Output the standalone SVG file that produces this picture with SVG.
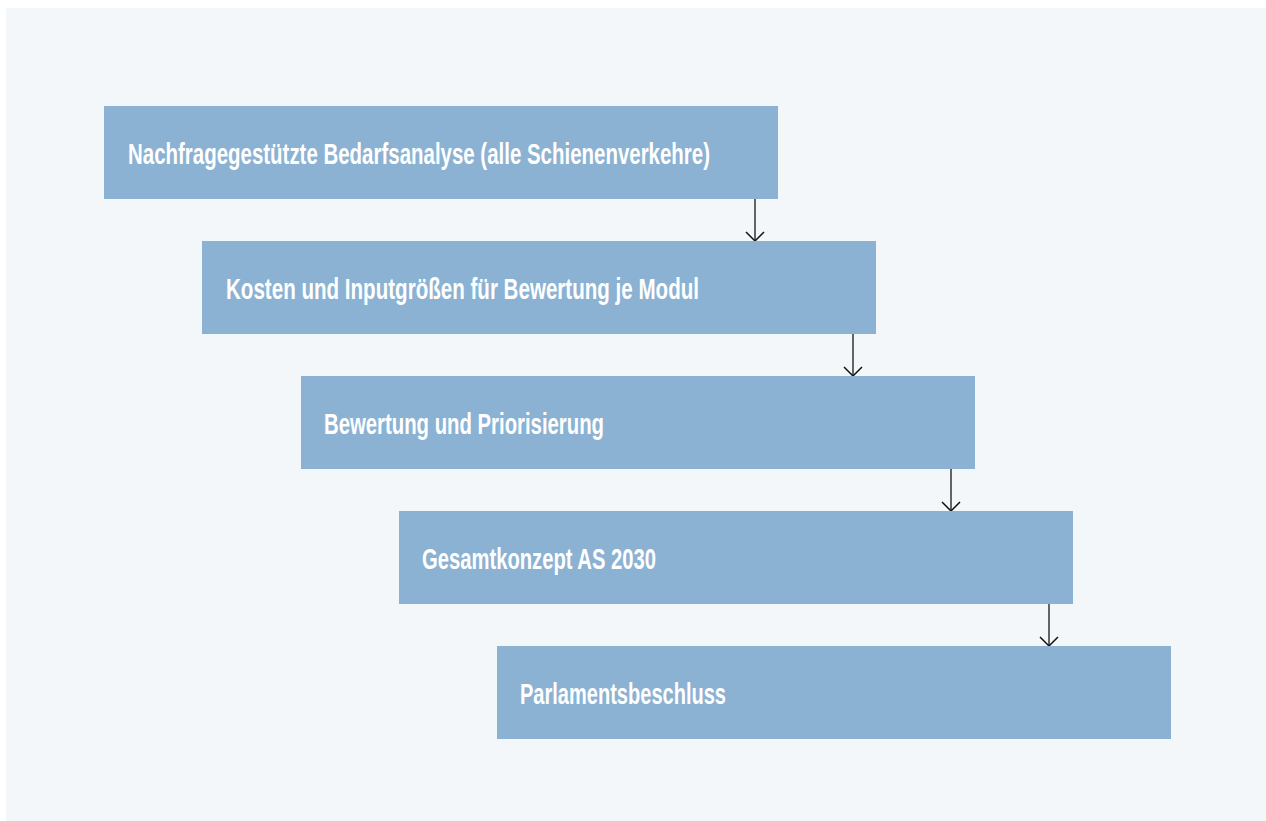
<svg xmlns="http://www.w3.org/2000/svg" width="1266" height="821" viewBox="0 0 1266 821">
<defs>
<style>
.box{fill:#8BB2D3}
.lbl{fill:#ffffff;font-family:"Liberation Sans",Arial,sans-serif;font-size:29px;font-weight:bold}
.conn{stroke:#333333;stroke-width:1.5;fill:none}
.head{fill:none;stroke:#111111;stroke-width:1.5}
</style>
</defs>
<rect x="0" y="0" width="1266" height="821" fill="#ffffff"/>
<rect x="6" y="8" width="1260" height="813" fill="#F3F7FA"/>
<g id="connectors">
<line class="conn" x1="755" y1="199" x2="755" y2="240"/>
<line class="conn" x1="853" y1="334" x2="853" y2="375"/>
<line class="conn" x1="951" y1="469" x2="951" y2="510"/>
<line class="conn" x1="1049" y1="604" x2="1049" y2="645"/>
<path class="head" d="M746,232 L755,241 L764,232 M844,367 L853,376 L862,367 M942,502 L951,511 L960,502 M1040,637 L1049,646 L1058,637"/>
</g>
<g id="n1"><rect class="box" x="104" y="106" width="674" height="93"/><text class="lbl" x="128" y="164" textLength="582" lengthAdjust="spacingAndGlyphs">Nachfragegestützte Bedarfsanalyse (alle Schienenverkehre)</text></g>
<g id="n2"><rect class="box" x="202" y="241" width="674" height="93"/><text class="lbl" x="226" y="299" textLength="473" lengthAdjust="spacingAndGlyphs">Kosten und Inputgrößen für Bewertung je Modul</text></g>
<g id="n3"><rect class="box" x="301" y="376" width="674" height="93"/><text class="lbl" x="324" y="434" textLength="280" lengthAdjust="spacingAndGlyphs">Bewertung und Priorisierung</text></g>
<g id="n4"><rect class="box" x="399" y="511" width="674" height="93"/><text class="lbl" x="422" y="569" textLength="234" lengthAdjust="spacingAndGlyphs">Gesamtkonzept AS 2030</text></g>
<g id="n5"><rect class="box" x="497" y="646" width="674" height="93"/><text class="lbl" x="520" y="704" textLength="206" lengthAdjust="spacingAndGlyphs">Parlamentsbeschluss</text></g>
</svg>
